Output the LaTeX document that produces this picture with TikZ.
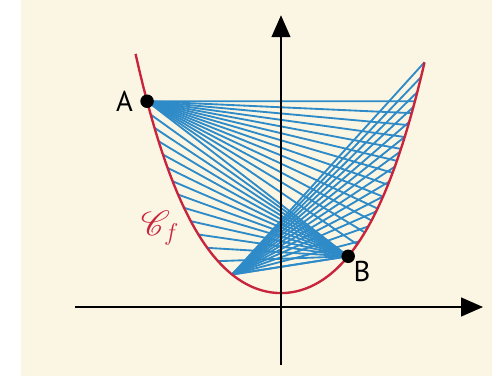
\documentclass[tikz,border=0pt]{standalone}
\usepackage{fontspec}
\setsansfont{PT Sans}
\usepackage{mathrsfs}
\usetikzlibrary{arrows.meta,positioning}
\definecolor{cream}{HTML}{FBF6E4}
\definecolor{curvered}{HTML}{C8243C}
\definecolor{chordblue}{HTML}{2E8BC8}

\begin{document}
\begin{tikzpicture}[
  declare function={f(\x)=0.29+0.35*\x*\x+0.021*\x*\x*\x*\x;
    g(\y)=sqrt((-0.35+sqrt(0.1225+0.084*(\y-0.29)))/0.042);},
  axis/.style={line width=1.5pt,-{Triangle[length=13pt,width=11pt]}},
  chord/.style={chordblue,line width=1.1pt},
  curve/.style={curvered,line width=1.4pt},
  dot/.style={circle,fill=black,inner sep=0pt,minimum size=8pt},
  lbl/.style={font=\sffamily\fontsize{17}{20}\selectfont,inner sep=1pt}
]
  \useasboundingbox (-5.854,-1.4375) rectangle (4.396,6.396);
  \fill[cream] (-5.417,-1.4375) rectangle (4.396,6.396);

  \coordinate (A) at (-2.79,{f(-2.79)});
  \coordinate (B) at (1.40,{f(1.40)});
  \coordinate (C) at (-1.02,{f(-1.02)});

  % chords from A, to B, from C (ends spaced evenly in height)
  \foreach \i in {0,...,13} {
    \coordinate (P) at ({g(4.287-0.2485*\i)},{4.287-0.2485*\i});
    \draw[chord] (A) -- (P);
  }
  \foreach \i in {1,...,13} {
    \coordinate (P) at ({-g(4.287-0.2777*\i)},{4.287-0.2777*\i});
    \draw[chord] (P) -- (B);
  }
  \foreach \i in {0,...,13} {
    \coordinate (P) at ({g(1.057+0.311*\i)},{1.057+0.311*\i});
    \draw[chord] (C) -- (P);
  }

  \draw[curve] plot[domain=-3.03:2.99,samples=80,smooth] (\x,{f(\x)});

  \coordinate (xs) at (-4.29,0);
  \coordinate (xe) at (4.21,0);
  \coordinate (ys) at (0,-1.21);
  \coordinate (ye) at (0,6.08);
  \draw[axis] (xs) -- (xe);
  \draw[axis] (ys) -- (ye);

  \node[dot] (dotA) at (A) {};
  \node[dot] (dotB) at (B) {};
  \node[lbl,left=3pt of dotA] (labA) {A};
  \node[lbl,below right=-1pt and -1pt of dotB] (labB) {B};
  \node[text=curvered,font=\fontsize{20}{22}\selectfont] (cf) at (-2.52,1.65) {$\mathscr{C}_f$};
\end{tikzpicture}
\end{document}
